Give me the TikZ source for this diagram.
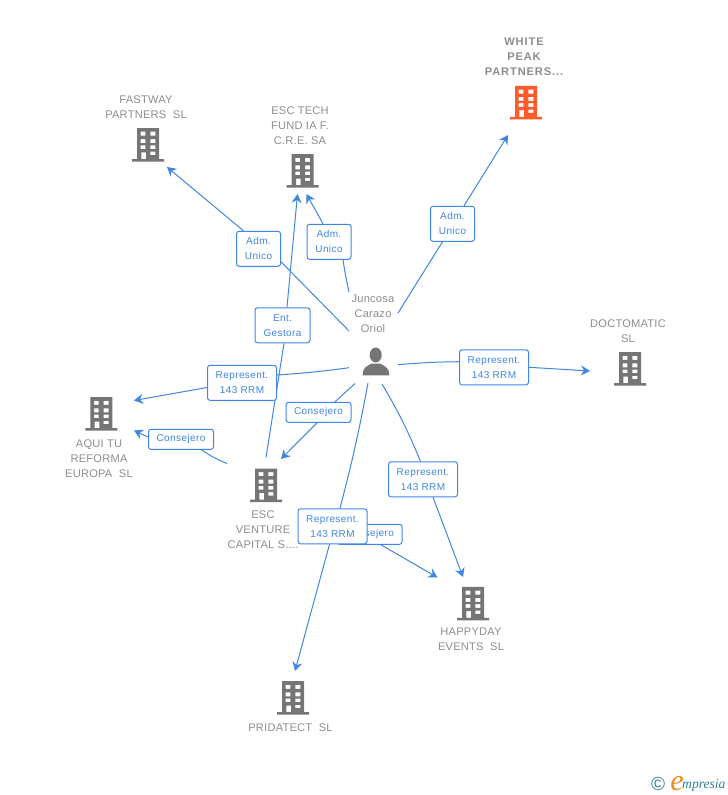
\documentclass[tikz,border=0pt]{standalone}
\usepackage{fontspec}
\setmainfont{Liberation Sans}
\newfontfamily\blf[LetterSpace=4]{Liberation Sans}
\newfontfamily\grf[LetterSpace=2]{Liberation Sans}
\newfontfamily\grb[LetterSpace=8]{Liberation Sans}
\newfontfamily\logof{Liberation Serif}
\usetikzlibrary{arrows.meta,backgrounds}
\definecolor{lk}{HTML}{3F86E3}
\definecolor{lbl}{HTML}{8C8C8C}
\definecolor{ic}{HTML}{757575}
\definecolor{hot}{HTML}{FF5B2B}
\definecolor{teal}{HTML}{2F7F96}
\definecolor{orng}{HTML}{F28A1E}
\tikzset{
  pics/bld/.style={code={
    \fill[#1,even odd rule] (-11,-33.5) rectangle (11,-2.5) (-16,-2.5) rectangle (16,0)
      (-7.3,-29.8) rectangle (-2.7,-25.8) (2.3,-29.8) rectangle (7.3,-25.8)
      (-7.3,-22.4) rectangle (-2.7,-18.4) (2.3,-22.4) rectangle (7.3,-18.4)
      (-7.3,-16.2) rectangle (-2.7,-12.5) (2.3,-16.2) rectangle (7.3,-12.5)
      (-6.7,-9.2) rectangle (-2,-2.5) (2.3,-9.8) rectangle (7.3,-6.5);
  }},
  tagbox/.style={draw=lk,line width=1pt,rounded corners=2.5pt,fill=white,text=lk,inner sep=0pt,align=center,
    font={\blf\fontsize{10}{15}\selectfont}},
  wide/.style={tagbox,minimum width=69pt,minimum height=35pt},
  narrow/.style={tagbox,minimum width=44pt,minimum height=35pt},
  entbox/.style={tagbox,minimum width=55pt,minimum height=35pt},
  cons/.style={tagbox,minimum width=65pt,minimum height=20pt},
  captext/.style={text=lbl,inner sep=0pt,align=center,font={\grf\fontsize{11.1}{15}\selectfont}},
  capbold/.style={captext,font={\grb\bfseries\fontsize{11.1}{15}\selectfont}},
  link/.style={draw=lk,line width=1pt},
  arr/.style={link,-{Stealth[inset=3pt,length=9pt,width=10pt]}},
}
\begin{document}
\begin{tikzpicture}[x=1pt,y=-1pt]
\useasboundingbox (0,0) rectangle (728,795);

% buildings
\pic (fastway) at (148,161.5) {bld=ic};
\pic (esctech) at (302.7,187.7) {bld=ic};
\pic (whitepeak) at (526,119.3) {bld=hot};
\pic (doctomatic) at (630,385.7) {bld=ic};
\pic (aqui) at (101.3,430.7) {bld=ic};
\pic (escventure) at (266,502) {bld=ic};
\pic (happyday) at (473,620.3) {bld=ic};
\pic (pridatect) at (293,714.7) {bld=ic};

% person
\fill[ic] (375.7,355) ellipse (6pt and 7.5pt);
\fill[ic] (362.7,375.3) .. controls (362.7,368) and (366,366.5) .. (371.5,363.5) -- (380,363.5)
  .. controls (385.5,366.5) and (389.3,368) .. (389.3,375.3) -- cycle;

% captions
\node[captext] (tfast) at (146,106.7) {FASTWAY\\PARTNERS\ \ SL};
\node[captext] (ttech) at (300,125.2) {ESC TECH\\FUND IA F.\\C.R.E. SA};
\node[capbold] (twhite) at (524,57) {WHITE\\PEAK\\PARTNERS...};
\node[captext] (tperson) at (373,314) {Juncosa\\Carazo\\Oriol};
\node[captext] (tdoc) at (628,330.7) {DOCTOMATIC\\SL};
\node[captext] (taqui) at (99,458.2) {AQUI TU\\REFORMA\\EUROPA\ \ SL};
\node[captext] (tvent) at (263,529.2) {ESC\\VENTURE\\CAPITAL S....};
\node[captext] (thappy) at (471,639.7) {HAPPYDAY\\EVENTS\ \ SL};
\node[captext] (tprid) at (290.5,727.2) {PRIDATECT\ \ SL};

% connector labels
\node[narrow] (l1) at (258.5,248.8) {Adm.\\Unico};
\node[narrow] (l2) at (329,241.8) {Adm.\\Unico};
\node[narrow] (l3) at (452.5,223.8) {Adm.\\Unico};
\node[entbox] (l4) at (282.5,325.3) {Ent.\\Gestora};
\node[wide] (l5) at (242,382.8) {Represent.\\143 RRM};
\node[wide] (l6) at (494,367.3) {Represent.\\143 RRM};
\node[cons] (l7) at (318.5,412.3) {Consejero};
\node[cons] (l8) at (181,439.3) {Consejero};
\node[wide] (l9) at (423,479.3) {Represent.\\143 RRM};
\node[cons] (l10) at (369.5,534.3) {Consejero};
\node[wide] (l11) at (332.5,526.3) {Represent.\\143 RRM};

% free ends
\coordinate (s1) at (349,331);
\coordinate (s2) at (349,292);
\coordinate (s3) at (398,313);
\coordinate (s4) at (266,457.5);
\coordinate (s5) at (349,367.7);
\coordinate (s6) at (398,364.7);
\coordinate (s7) at (355,383.5);
\coordinate (s8) at (227,463.5);
\coordinate (s9) at (382,384);
\coordinate (s11) at (368,383);
\coordinate (t1) at (167,167);
\coordinate (t2) at (306.5,194);
\coordinate (t3) at (508,135);
\coordinate (t4) at (297.5,194);
\coordinate (t5) at (134,400.5);
\coordinate (t6) at (590,371);
\coordinate (t7) at (281,459);
\coordinate (t8) at (134,430.5);
\coordinate (t9) at (463,577);
\coordinate (t10) at (437.5,577.5);
\coordinate (t11) at (295,671);

\begin{scope}[on background layer]
\draw[link] (s1) to ([yshift=-13pt]l1.east);
\draw[arr] ([xshift=-15pt]l1.north) to (t1);
\draw[link] (s2) to[bend left=2] ([xshift=14pt]l2.south);
\draw[arr] ([xshift=-6pt]l2.north) to (t2);
\draw[link] (s3) to ([xshift=-10pt]l3.south);
\draw[arr] ([xshift=11.5pt]l3.north) to (t3);
\draw[link] (s4) to ([xshift=1.5pt]l4.south);
\draw[arr] ([xshift=4.5pt]l4.north) to (t4);
\draw[link] (s5) to[bend left=2] ([yshift=7.8pt]l5.east);
\draw[arr] ([yshift=-4.7pt]l5.west) to (t5);
\draw[link] (s6) to[bend left=2] ([yshift=5.6pt]l6.west);
\draw[arr] (l6.east) to (t6);
\draw[link] (s7) to ([xshift=16.5pt]l7.north);
\draw[arr] ([xshift=-1.5pt]l7.south) to (t7);
\draw[link] (s8) to[bend left=6] ([xshift=20.5pt]l8.south);
\draw[arr] ([yshift=2.3pt]l8.west) to (t8);
\draw[link] (s9) to[bend left=4] ([xshift=-2.5pt]l9.north);
\draw[arr] ([xshift=10pt]l9.south) to (t9);
\draw[arr] ([xshift=11.5pt]l10.south) to (t10);
\draw[link] (s11) to[bend left=2] ([xshift=7.5pt]l11.north);
\draw[arr] ([xshift=-3pt]l11.south) to (t11);
\end{scope}

% logo
\node[text=teal,inner sep=0pt,font={\fontsize{19}{19}\selectfont}] (logoc) at (658,784) {©};
\node[text=orng,inner sep=0pt,anchor=base,font={\logof\itshape\fontsize{30}{30}\selectfont}] (logoe) at (677,790) {e};
\node[text=teal,inner sep=0pt,anchor=base west,font={\logof\itshape\fontsize{13.6}{14}\selectfont}] (logot) at (682,788.5) {mpresia};
\end{tikzpicture}
\end{document}
